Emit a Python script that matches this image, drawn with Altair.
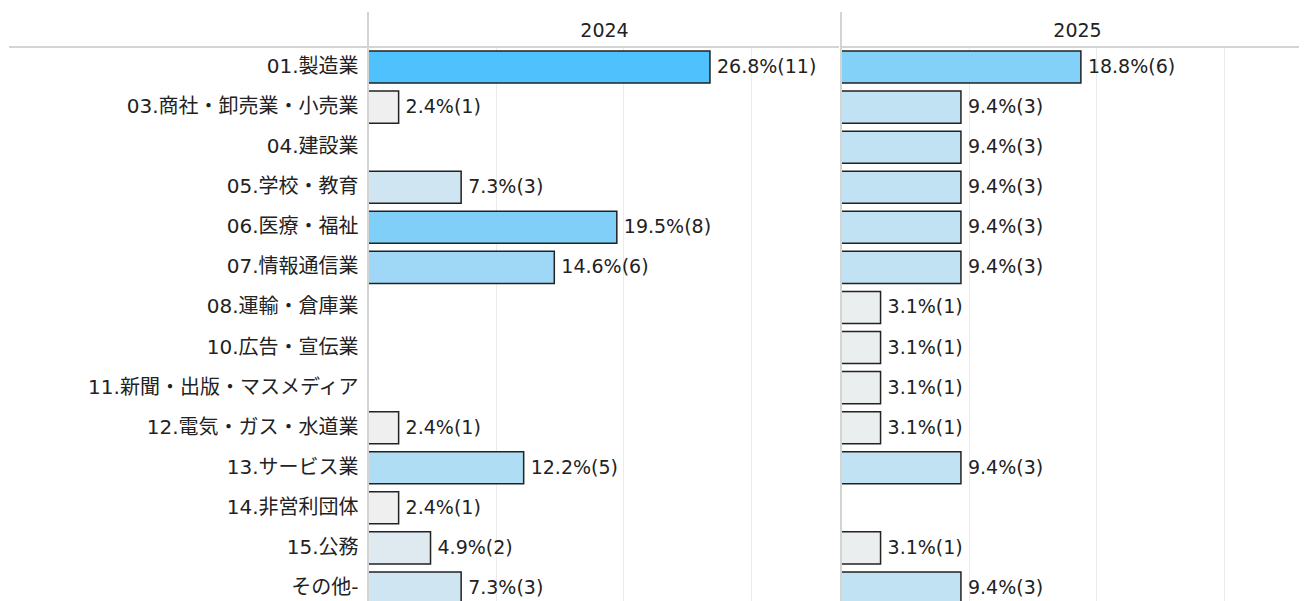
import altair as alt
import pandas as pd

categories = [
    "01.製造業", "03.商社・卸売業・小売業", "04.建設業", "05.学校・教育",
    "06.医療・福祉", "07.情報通信業", "08.運輸・倉庫業", "10.広告・宣伝業",
    "11.新聞・出版・マスメディア", "12.電気・ガス・水道業", "13.サービス業",
    "14.非営利団体", "15.公務", "その他-",
]
pct_2024 = [26.8, 2.4, None, 7.3, 19.5, 14.6, None, None, None, 2.4, 12.2, 2.4, 4.9, 7.3]
cnt_2024 = [11, 1, None, 3, 8, 6, None, None, None, 1, 5, 1, 2, 3]
pct_2025 = [18.8, 9.4, 9.4, 9.4, 9.4, 9.4, 3.1, 3.1, 3.1, 3.1, 9.4, None, 3.1, 9.4]
cnt_2025 = [6, 3, 3, 3, 3, 3, 1, 1, 1, 1, 3, None, 1, 3]
years = ["2024", "2025"]
grid_values = [10, 20, 30]

LABEL_FONT = "DejaVu Sans, Noto Sans CJK JP"
NUM_FONT = "DejaVu Sans"
TXT = "#222222"
LINE = "#d4d4d4"
PX_PER_PCT = 12.76
H = 561
HEADER_X = 236.5


def make_df(pcts, cnts):
    rows = []
    for c, p, n in zip(categories, pcts, cnts):
        if p is None:
            continue
        rows.append({"cat": c, "pct": p, "label": f"{p:.1f}%({n})"})
    return pd.DataFrame(rows)


def panel(year, pcts, cnts, width, first):
    df = make_df(pcts, cnts)
    yaxis = alt.Axis(
        title=None, ticks=False, domain=False, labels=first,
        labelFont=LABEL_FONT, labelFontSize=20, labelColor=TXT, labelPadding=10,
        labelLimit=400, grid=False,
    )
    y = alt.Y("cat:N", sort=categories,
              scale=alt.Scale(domain=categories, paddingInner=0.2, paddingOuter=0.1),
              axis=yaxis)
    x = alt.X("pct:Q", scale=alt.Scale(domain=[0, width / PX_PER_PCT], nice=False, zero=True),
              axis=alt.Axis(values=grid_values, grid=True, gridColor="#ebebeb", gridWidth=1,
                            labels=False, ticks=False, domain=False, title=None))
    base = alt.Chart(df)
    bars = base.mark_bar(stroke="#222222", strokeWidth=1.5).encode(
        x=x, y=y,
        color=alt.Color("pct:Q",
                        scale=alt.Scale(domain=[2.4, 26.8], range=["#efefef", "#4fc1fc"],
                                        interpolate="rgb"),
                        legend=None),
    )
    text = base.mark_text(align="left", baseline="middle", dx=7, font=NUM_FONT, fontSize=19,
                          color=TXT).encode(x="pct:Q", y=alt.Y("cat:N", sort=categories), text="label:N")
    one = alt.Data(values=[{"year": year}])
    hline = alt.Chart(one).mark_rule(color=LINE, strokeWidth=2).encode(
        x=alt.value(-359 if first else 0), x2=alt.value(width), y=alt.value(0))
    vline = alt.Chart(one).mark_rule(color=LINE, strokeWidth=2).encode(
        x=alt.value(0), y=alt.value(-35), y2=alt.value(H))
    header = alt.Chart(one).mark_text(align="center", baseline="alphabetic", font=NUM_FONT,
                                      fontSize=19, color=TXT).encode(
        x=alt.value(HEADER_X), y=alt.value(-10), text="year:N")
    return alt.layer(bars, text, vline, hline, header).properties(width=width, height=H)


chart = alt.hconcat(
    panel(years[0], pct_2024, cnt_2024, 471, True),
    panel(years[1], pct_2025, cnt_2025, 458, False),
    spacing=0,
).resolve_scale(x="independent", color="shared").properties(
    padding={"left": 0, "top": 3, "right": 0, "bottom": 0}
).configure_view(stroke=None)

chart.save("out.html", embed_options={"renderer": "svg", "actions": False})
